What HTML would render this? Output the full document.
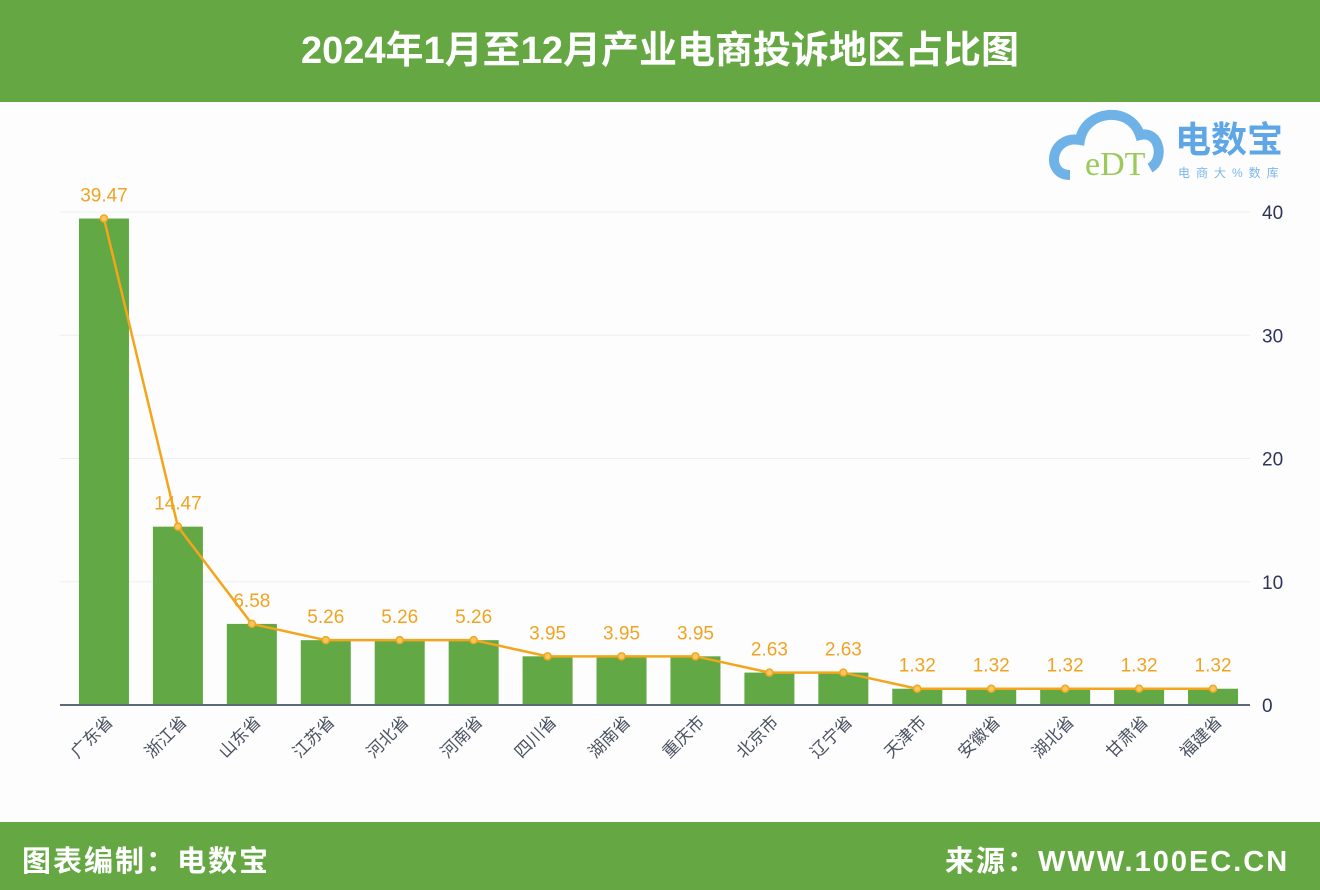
<!DOCTYPE html>
<html><head><meta charset="utf-8">
<style>
body{margin:0;width:1320px;height:890px;overflow:hidden;background:#fdfdfe;font-family:"Liberation Sans","Noto Sans CJK SC",sans-serif;}
#hdr{position:absolute;left:0;top:0;width:1320px;height:102px;background:#65a843;color:#fff;font:bold 38px "Liberation Sans","Noto Sans CJK SC",sans-serif;text-align:center;line-height:102px;}
#ftr{position:absolute;left:0;top:822px;width:1320px;height:68px;background:#65a843;color:#fff;font:bold 29px "Liberation Sans","Noto Sans CJK SC",sans-serif;letter-spacing:2px;}
#ftr span{position:absolute;top:16px}
svg{position:absolute;left:0;top:0}
</style></head><body>
<div id="hdr">2024年1月至12月产业电商投诉地区占比图</div>
<svg id="chart" width="1320" height="890">
<g>
<path d="M1070 175 C1045 175 1050 135 1080 140 C1085 110 1130 105 1140 135 C1160 130 1165 160 1150 168" fill="none" stroke="#6fb2e8" stroke-width="10"/>
<text x="1085" y="175" font-size="34" font-family="Liberation Serif,serif" fill="#9bc95a">eDT</text>
<text x="1175" y="152" font-size="36" font-weight="bold" fill="#5fa6e6" font-family="Liberation Sans,Noto Sans CJK SC,sans-serif">电数宝</text>
<text x="1178" y="177" font-size="12" fill="#7ab6ea" font-family="Liberation Sans,Noto Sans CJK SC,sans-serif" letter-spacing="6">电商大%数库</text>
</g>
</svg>
<div id="ftr"><span style="left:22px">图表编制：电数宝</span><span style="left:945px">来源：WWW.100EC.CN</span></div>
<script>
const categories=["广东省","浙江省","山东省","江苏省","河北省","河南省","四川省","湖南省","重庆市","北京市","辽宁省","天津市","安徽省","湖北省","甘肃省","福建省"];
const values=[39.47,14.47,6.58,5.26,5.26,5.26,3.95,3.95,3.95,2.63,2.63,1.32,1.32,1.32,1.32,1.32];
const ticks=[0,10,20,30,40];
const NS="http://www.w3.org/2000/svg";
const svg=document.getElementById('chart');
const x0=67,x1=1250,y0=705,yTop=212,maxV=40;
const bw=(x1-x0)/categories.length;
const y=v=>y0-(v/maxV)*(y0-yTop);
const xc=i=>x0+bw*(i+0.5);
function mk(t,a){const e=document.createElementNS(NS,t);for(const k in a)e.setAttribute(k,a[k]);svg.appendChild(e);return e;}
ticks.forEach(t=>{
 if(t>0){const g=mk('line',{x1:60,x2:x1,y1:y(t),y2:y(t),stroke:'#eceef3','stroke-width':1});
 
 }
 const l=mk('text',{x:1262,y:y(t)+7,'font-size':19,fill:'#2e3558'});l.textContent=t;
 
 
});
values.forEach((v,i)=>{
 const r=mk('rect',{x:xc(i)-25,y:y(v),width:50,height:y0-y(v),fill:'#62a844'});
 
 
});
const ax=mk('line',{x1:60,x2:x1,y1:y0,y2:y0,stroke:'#5c6a78','stroke-width':2});


const pl=mk('polyline',{points:values.map((v,i)=>xc(i)+','+y(v)).join(' '),fill:'none',stroke:'#f3a51c','stroke-width':2.5});


values.forEach((v,i)=>{
 const c=mk('circle',{cx:xc(i),cy:y(v),r:3.5,fill:'#f7c766',stroke:'#f3a51c','stroke-width':1.5});
 
 
 const t=mk('text',{x:xc(i),y:y(v)-17,'text-anchor':'middle','font-size':19,fill:'#f0a321'});t.textContent=v.toFixed(2);
 
 
 const lb=mk('text',{x:0,y:0,'text-anchor':'end','font-size':17,fill:'#4a5260',transform:`translate(${xc(i)+10},${y0+18}) rotate(-45)`});lb.textContent=categories[i];
 
 
});
</script>
</body></html>
